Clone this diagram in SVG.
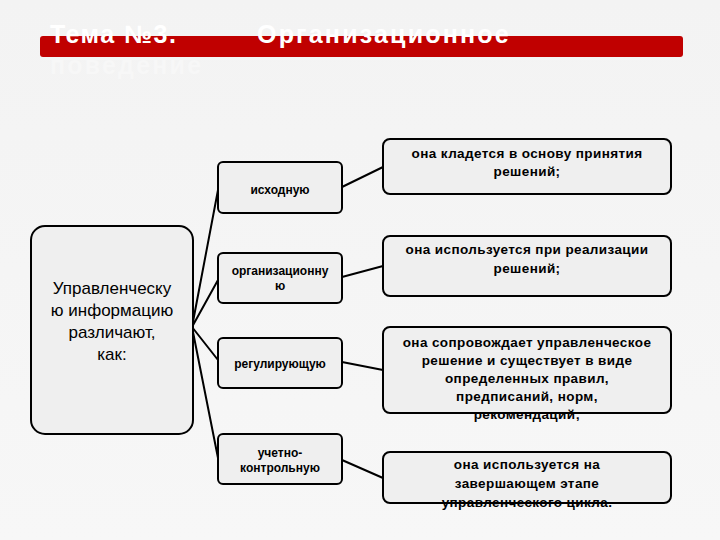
<svg xmlns="http://www.w3.org/2000/svg" width="720" height="540" viewBox="0 0 720 540">
<defs>
<style>
.box{fill:#efefef;stroke:#000;stroke-width:2}
.t{font-family:"Liberation Sans",Arial,sans-serif;text-anchor:middle;fill:#000}
.m{font-size:12px;font-weight:bold}
.r{font-size:13.5px;font-weight:bold;letter-spacing:0.4px}
.c{stroke:#000;stroke-width:2;fill:none}
</style>
<linearGradient id="bg" x1="0" y1="0" x2="0" y2="1"><stop offset="0" stop-color="#f3f3f3"/><stop offset="1" stop-color="#f7f7f7"/></linearGradient>
</defs>
<rect width="720" height="540" fill="url(#bg)"/>
<g id="title">
<rect x="40" y="36" width="643" height="21" rx="3" fill="#c00000"/>
<text x="50" y="43" font-family="Liberation Sans,Arial,sans-serif" font-size="25" font-weight="bold" fill="#fff" letter-spacing="1.5">Тема №3.</text>
<text x="257" y="43" font-family="Liberation Sans,Arial,sans-serif" font-size="25" font-weight="bold" fill="#fff" letter-spacing="2.2">Организационное</text>
<text x="50" y="74" font-family="Liberation Sans,Arial,sans-serif" font-size="25" font-weight="bold" fill="#f7f7f7" letter-spacing="2.2">поведение</text>
</g>
<g id="connectors">
<path class="c" d="M192 327L218 190M192 327L218 280M192 327L218 360M192 327L218 458"/>
<path class="c" d="M342 187L383 167M342 277L383 266M342 362L383 370M342 460L383 478"/>
</g>
<g id="main">
<rect class="box" x="31" y="226" width="162" height="208" rx="14"/>
<text class="t" font-size="17" x="112" y="294">Управленческу</text>
<text class="t" font-size="17" x="112" y="316">ю информацию</text>
<text class="t" font-size="17" x="112" y="338">различают,</text>
<text class="t" font-size="17" x="112" y="360">как:</text>
</g>
<g id="n1"><rect class="box" x="218" y="162" width="124" height="51" rx="5"/><text class="t m" x="280" y="194">исходную</text></g>
<g id="n2"><rect class="box" x="218" y="253" width="124" height="50" rx="5"/><text class="t m" x="280" y="275">организационну</text><text class="t m" x="280" y="290">ю</text></g>
<g id="n3"><rect class="box" x="218" y="338" width="124" height="50" rx="5"/><text class="t m" x="280" y="368">регулирующую</text></g>
<g id="n4"><rect class="box" x="218" y="434" width="124" height="50" rx="5"/><text class="t m" x="280" y="457">учетно-</text><text class="t m" x="280" y="472">контрольную</text></g>
<g id="d1"><rect class="box" x="383" y="139" width="288" height="55" rx="7"/><text class="t r" x="527" y="158">она кладется в основу принятия</text><text class="t r" x="527" y="176">решений;</text></g>
<g id="d2"><rect class="box" x="383" y="236" width="288" height="60" rx="7"/><text class="t r" x="527" y="254">она используется при реализации</text><text class="t r" x="527" y="273">решений;</text></g>
<g id="d3"><rect class="box" x="383" y="327" width="288" height="86" rx="7"/><text class="t r" x="527" y="347">она сопровождает управленческое</text><text class="t r" x="527" y="365">решение и существует в виде</text><text class="t r" x="527" y="383">определенных правил,</text><text class="t r" x="527" y="401">предписаний, норм,</text><text class="t r" x="527" y="419">рекомендаций;</text></g>
<g id="d4"><rect class="box" x="383" y="452" width="288" height="51" rx="7"/><text class="t r" x="527" y="469">она используется на</text><text class="t r" x="527" y="488">завершающем этапе</text><text class="t r" x="527" y="507">управленческого цикла.</text></g>
</svg>
